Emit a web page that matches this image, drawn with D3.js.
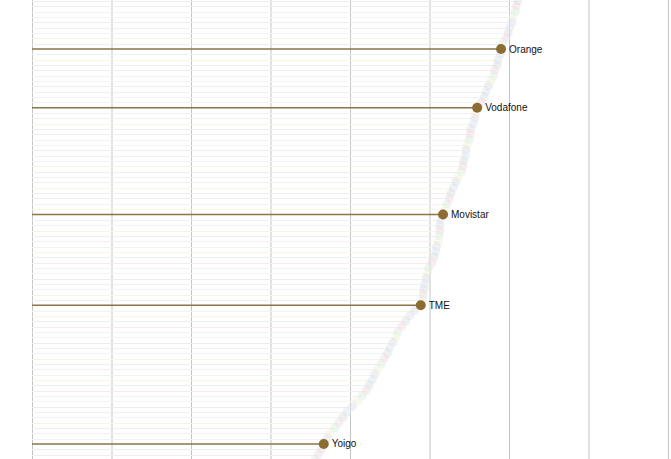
<!DOCTYPE html>
<html>
<head>
<meta charset="utf-8">
<script src="https://cdn.jsdelivr.net/npm/d3@7"></script>
<style>
  html, body { margin: 0; padding: 0; background: #fff; }
  svg { display: block; }
</style>
</head>
<body>
<svg id="chart" width="671" height="459"></svg>
<script>
// Row values (one per row, top to bottom)
const values = [
  61.1, 60.9, 60.8, 60.5, 60.4, 60.1, 59.9, 59.6, 59.2, 59.0,
  58.9, 58.6, 58.5, 58.2, 58.1, 57.7, 57.4, 57.1, 56.9, 56.5,
  56.0, 55.8, 55.7, 55.5, 55.2, 55.1, 55.0, 54.7, 54.6, 54.5,
  54.3, 54.2, 54.0, 53.6, 53.3, 53.0, 52.7, 52.5, 52.2, 52.0,
  51.7, 51.4, 51.3, 51.3, 51.2, 51.1, 50.9, 50.8, 50.6, 50.3,
  49.9, 49.7, 49.6, 49.4, 49.3, 49.2, 49.1, 48.9, 48.1, 47.5,
  47.0, 46.5, 46.0, 45.8, 45.4, 45.0, 44.7, 44.3, 43.9, 43.5,
  43.1, 42.8, 42.4, 42.0, 41.5, 40.9, 40.3, 39.6, 39.1, 38.6,
  38.1, 37.5, 37.1, 36.7, 36.4, 36.0, 35.6
];
// Highlighted operators: row index -> name
const highlightRows = [9, 20, 40, 57, 83];
const highlightNames = ["Orange", "Vodafone", "Movistar", "TME", "Yoigo"];
const xTicks = [0, 10, 20, 30, 40, 50, 60, 70, 80];

const svg = d3.select("#chart");
const W = 671, H = 459;

const x = d3.scaleLinear().domain([0, 80]).range([32, 668]);
const y = d3.scalePoint().domain(d3.range(values.length)).range([1, 460]);

const pastel = ["#dde2ea", "#f3dce0", "#dcefe5", "#f4f2da", "#e3e0ee", "#e0e8ee"];
const lineTint = ["#eeeef2", "#f6eeee", "#eef5f0", "#f6f5ea"];

// vertical gridlines
svg.append("g")
  .attr("transform", `translate(0,${H})`)
  .call(d3.axisBottom(x).tickValues(xTicks).tickSize(-H).tickFormat(""))
  .call(g => g.select(".domain").remove())
  .call(g => g.selectAll(".tick line").attr("stroke", "#c4c4c4").attr("stroke-width", 1));

const rows = values.map((v, i) => ({ i, v, hi: highlightRows.indexOf(i) }));
const bg = rows.filter(d => d.hi < 0);
const fg = rows.filter(d => d.hi >= 0);

// faint background rows
svg.append("g").selectAll("line").data(bg).join("line")
  .attr("x1", x(0)).attr("x2", d => x(d.v))
  .attr("y1", d => Math.round(y(d.i)) + 0.5).attr("y2", d => Math.round(y(d.i)) + 0.5)
  .attr("stroke", d => lineTint[d.i % lineTint.length])
  .attr("stroke-width", 1);

svg.append("g").selectAll("circle").data(bg).join("circle")
  .attr("cx", d => x(d.v)).attr("cy", d => y(d.i))
  .attr("r", 4.5)
  .attr("fill", d => pastel[d.i % pastel.length])
  .attr("opacity", 0.5);

// highlighted rows
const brown = "#8c6d31";
svg.append("g").selectAll("line").data(fg).join("line")
  .attr("x1", x(0)).attr("x2", d => x(d.v))
  .attr("y1", d => y(d.i)).attr("y2", d => y(d.i))
  .attr("stroke", "#8a7448")
  .attr("stroke-width", 1.6);

svg.append("g").selectAll("circle").data(fg).join("circle")
  .attr("cx", d => x(d.v)).attr("cy", d => y(d.i))
  .attr("r", 5)
  .attr("fill", brown);

svg.append("g").selectAll("text").data(fg).join("text")
  .attr("x", d => x(d.v) + 8).attr("y", d => y(d.i))
  .attr("dy", "0.35em")
  .attr("font-family", "Liberation Sans, Arial, sans-serif")
  .attr("font-size", 10)
  .attr("fill", "#111")
  .text(d => highlightNames[d.hi]);
</script>
</body>
</html>
